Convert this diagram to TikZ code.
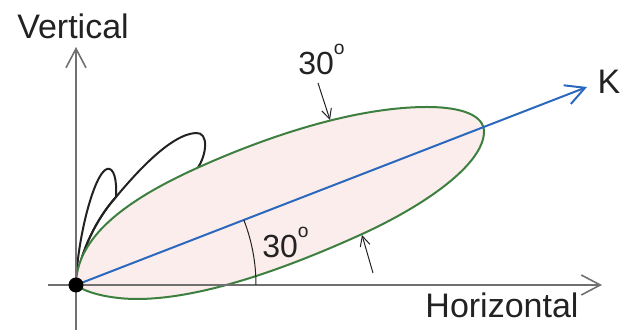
\documentclass[tikz,border=0pt]{standalone}
\usepackage{fontspec}
\setmainfont{Liberation Sans}
\usetikzlibrary{positioning,arrows.meta}
\definecolor{inkc}{HTML}{222222}
\definecolor{axisc}{HTML}{707070}
\definecolor{lobec}{HTML}{3C7F3E}
\definecolor{fillc}{HTML}{FCEDED}
\definecolor{kc}{HTML}{2A68BE}
\newcommand{\dg}{\raisebox{10pt}{\fontsize{9.6}{10}\selectfont o}}
\tikzset{
  axis/.style ={draw=axisc,line width=.8pt,-{Straight Barb[length=9.5pt,width=10pt]}},
  side/.style ={draw=inkc,line width=1pt},
  beam/.style ={draw=lobec,line width=1pt,fill=fillc},
  kvec/.style ={draw=kc,line width=1pt,-{Straight Barb[length=9.5pt,width=10pt]}},
  pin/.style  ={draw=inkc,line width=.5pt,-{Straight Barb[length=5pt,width=5pt]}},
  arcl/.style ={draw=inkc,line width=.5pt},
  lbl/.style  ={font=\fontsize{17}{20}\selectfont,text=inkc,inner sep=0pt},
  deg/.style  ={font=\fontsize{16}{19}\selectfont,text=inkc,inner sep=0pt},
}

\begin{document}
\begin{tikzpicture}[x=.5pt,y=.5pt]
\useasboundingbox (-76,-46) rectangle (547,285);
\coordinate (O) at (0,0);

% ---- side lobes ------------------------------------------------------------
\draw[side] (O) .. controls (1,45) and (18,112) .. (31,116)
  .. controls (38,118) and (41,105) .. (40,88)
  .. controls (22,68) and (4,35) .. (O);
\draw[side] (O) .. controls (4,35) and (22,68) .. (40,88)
  .. controls (60,112) and (95,151) .. (120,152)
  .. controls (133,153) and (131,130) .. (121,116)
  .. controls (90,60) and (30,10) .. (O);

% ---- main lobe -------------------------------------------------------------
\draw[beam] (O) .. controls (0,60) and (80,100) .. (144,127)
  .. controls (230,163) and (300,178) .. (351,178)
  .. controls (385,178) and (409,170) .. (408,152)
  .. controls (406,120) and (350,80) .. (284,50)
  .. controls (220,21) and (130,-14) .. (61,-14)
  .. controls (35,-14) and (10,-8) .. cycle;

% ---- axes ------------------------------------------------------------------
\coordinate (hs) at (-28,0);
\coordinate (he) at (526,0);
\coordinate (vs) at (0,-45);
\coordinate (ve) at (0,238);
\draw[axis] (hs) -- (he);
\draw[axis] (vs) -- (ve);
\node[lbl] (vert) at (-3,259) {Vertical};
\node[lbl] (horiz) at (426,-20) {Horizontal};

% ---- direction K -----------------------------------------------------------
\coordinate (ke) at (511,198);
\draw[kvec] (O) -- (ke);
\node[lbl] (K) at (533,203.5) {K};

% ---- beam width ------------------------------------------------------------
\draw[arcl] (180,0) arc[start angle=0,end angle=21.2,radius=180];
\node[deg,anchor=base west] (degin) at (186,27) {30\dg};
\node[deg,anchor=base west] (degtop) at (222,210) {30\dg};
\coordinate (pt1) at (242,202);
\coordinate (pt2) at (254,165);
\coordinate (pb1) at (297,12);
\coordinate (pb2) at (286,50);
\draw[pin] (pt1) -- (pt2);
\draw[pin] (pb1) -- (pb2);

\fill[black] (O) circle[radius=7.5];
\end{tikzpicture}
\end{document}
